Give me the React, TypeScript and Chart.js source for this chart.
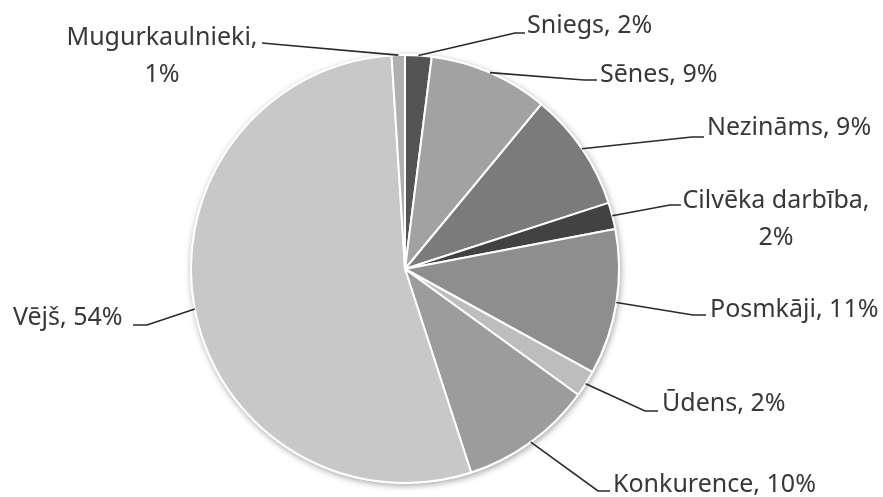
import React, { useEffect, useRef } from "react";
import { Chart, registerables } from "chart.js";

Chart.register(...registerables);

const CATEGORIES = [
  "Sniegs",
  "Sēnes",
  "Nezināms",
  "Cilvēka darbība",
  "Posmkāji",
  "Ūdens",
  "Konkurence",
  "Vējš",
  "Mugurkaulnieki",
];
const VALUES = [2, 9, 9, 2, 11, 2, 10, 54, 1];
const COLORS = [
  "#545454",
  "#a2a2a2",
  "#7b7b7b",
  "#424242",
  "#8e8e8e",
  "#bdbdbd",
  "#9c9c9c",
  "#c8c8c8",
  "#b0b0b0",
];

// label layout (pixel positions of text, elbow and stub end of leader lines)
type LabelLayout = {
  lines: { x: number; y: number; align: CanvasTextAlign }[];
  split: boolean;
  elbow: [number, number];
  end: [number, number];
};
const LAYOUT: LabelLayout[] = [
  { lines: [{ x: 527, y: 33, align: "left" }], split: false, elbow: [515, 33], end: [525, 33] },
  { lines: [{ x: 600, y: 82, align: "left" }], split: false, elbow: [584, 80], end: [597, 80] },
  { lines: [{ x: 707, y: 135, align: "left" }], split: false, elbow: [692, 137], end: [704, 137] },
  {
    lines: [
      { x: 776, y: 208, align: "center" },
      { x: 776, y: 245, align: "center" },
    ],
    split: true,
    elbow: [670, 205],
    end: [681, 205],
  },
  { lines: [{ x: 710, y: 317, align: "left" }], split: false, elbow: [693, 315], end: [706, 315] },
  { lines: [{ x: 662, y: 411, align: "left" }], split: false, elbow: [645, 411], end: [658, 411] },
  { lines: [{ x: 613, y: 492, align: "left" }], split: false, elbow: [598, 491], end: [610, 491] },
  { lines: [{ x: 13, y: 325, align: "left" }], split: false, elbow: [147, 325], end: [133, 325] },
  {
    lines: [
      { x: 162, y: 45, align: "center" },
      { x: 162, y: 82, align: "center" },
    ],
    split: true,
    elbow: [273, 44],
    end: [262, 43],
  },
];

const FONT = '25px "Noto Sans"';

const shadowPlugin = {
  id: "pieShadow",
  beforeDatasetsDraw(chart: any) {
    const arc = chart.getDatasetMeta(0).data[0];
    if (!arc) return;
    const { x, y, outerRadius } = arc.getProps(["x", "y", "outerRadius"], true);
    const ctx = chart.ctx;
    ctx.save();
    ctx.shadowColor = "rgba(0,0,0,0.35)";
    ctx.shadowBlur = 6;
    ctx.shadowOffsetX = 1;
    ctx.shadowOffsetY = 2;
    ctx.fillStyle = "#ffffff";
    ctx.beginPath();
    ctx.arc(x, y, outerRadius + 1, 0, Math.PI * 2);
    ctx.fill();
    ctx.restore();
  },
};

const labelPlugin = {
  id: "pieLabels",
  afterDatasetsDraw(chart: any) {
    const ctx = chart.ctx;
    const meta = chart.getDatasetMeta(0);
    const total = VALUES.reduce((a, b) => a + b, 0);
    meta.data.forEach((arc: any, i: number) => {
      const { x, y, startAngle, endAngle, outerRadius } = arc.getProps(
        ["x", "y", "startAngle", "endAngle", "outerRadius"],
        true
      );
      const mid = (startAngle + endAngle) / 2;
      const px = x + Math.cos(mid) * outerRadius;
      const py = y + Math.sin(mid) * outerRadius;
      const lay = LAYOUT[i];
      ctx.save();
      ctx.strokeStyle = "#2a2a2a";
      ctx.lineWidth = 1.6;
      ctx.beginPath();
      ctx.moveTo(px, py);
      ctx.lineTo(lay.elbow[0], lay.elbow[1]);
      ctx.lineTo(lay.end[0], lay.end[1]);
      ctx.stroke();
      const pct = Math.round((VALUES[i] / total) * 100) + "%";
      const texts = lay.split
        ? [CATEGORIES[i] + ",", pct]
        : [CATEGORIES[i] + ", " + pct];
      ctx.fillStyle = "#383838";
      ctx.font = FONT;
      ctx.textBaseline = "alphabetic";
      texts.forEach((t, k) => {
        const ln = lay.lines[k];
        ctx.textAlign = ln.align;
        ctx.fillText(t, ln.x, ln.y);
      });
      ctx.restore();
    });
  },
};

export default function App() {
  const ref = useRef<HTMLCanvasElement>(null);
  useEffect(() => {
    if (!ref.current) return;
    const chart = new Chart(ref.current, {
      type: "pie",
      data: {
        labels: CATEGORIES,
        datasets: [
          {
            data: VALUES,
            backgroundColor: COLORS,
            borderColor: "#ffffff",
            borderWidth: 2,
          },
        ],
      },
      options: {
        responsive: false,
        animation: false,
        layout: { padding: { left: 190, right: 263, top: 54, bottom: 13 } },
        plugins: {
          legend: { display: false },
          tooltip: { enabled: false },
        },
      },
      plugins: [shadowPlugin, labelPlugin],
    });
    return () => chart.destroy();
  }, []);
  return (
    <div style={{ position: "absolute", left: 0, top: 0, width: 883, height: 497, background: "#fff" }}>
      <canvas ref={ref} width={883} height={497} style={{ display: "block" }} />
    </div>
  );
}
